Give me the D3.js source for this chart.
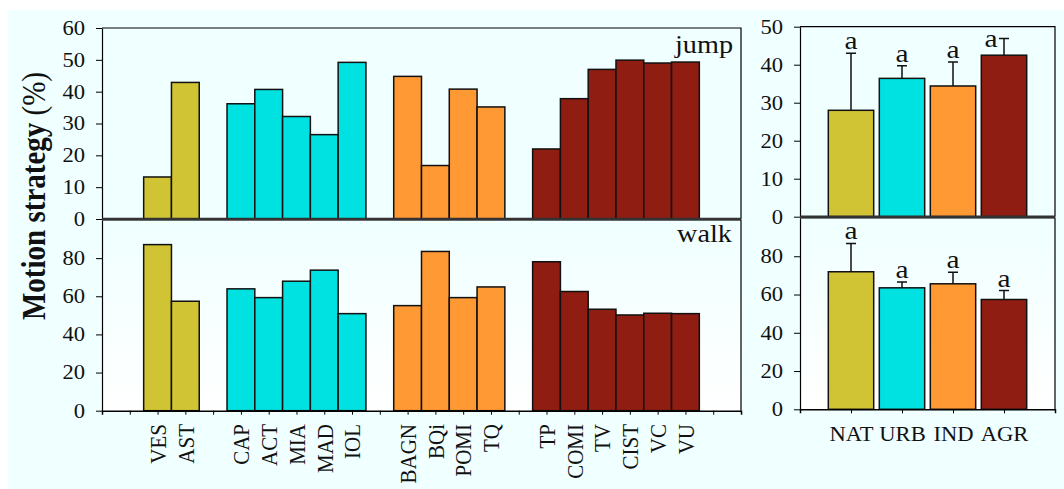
<!DOCTYPE html>
<html>
<head>
<meta charset="utf-8">
<script src="https://cdn.jsdelivr.net/npm/d3@7"></script>
<style>
body{margin:0;background:#fff}
svg text{font-family:'Liberation Serif','Times New Roman',serif;fill:#111}
</style>
</head>
<body>
<svg id="chart" width="1064" height="489"></svg>
<script>
// site level data (left chart)
const sites = ['VES','AST','CAP','ACT','MIA','MAD','IOL','BAGN','BQi','POMI','TQ','TP','COMI','TV','CIST','VC','VU']
const siteGroup = [0,0,1,1,1,1,1,2,2,2,2,3,3,3,3,3,3]
const jumpSite = [13.2,42.9,36.2,40.7,32.2,26.5,49.2,44.8,16.8,40.8,35.2,22.0,37.8,47.0,49.9,49.0,49.3]
const walkSite = [87.1,57.4,63.9,59.3,67.9,73.7,50.9,55.1,83.5,59.3,64.9,78.1,62.5,53.2,50.2,51.1,50.9]

// habitat means (right chart)
const groups = ['NAT','URB','IND','AGR']
const colors = ['#D1C434','#00E1E1','#FF9933','#8F1D12']
const jumpMean = [28.0,36.4,34.4,42.5]
const jumpErr = [15.0,3.3,6.3,4.4]
const walkMean = [71.9,63.5,65.6,57.4]
const walkErr = [14.8,3.1,6.1,4.7]
const letters = ['a','a','a','a']

const jumpTicks = [0,10,20,30,40,50,60]
const walkTicks = [0,20,40,60,80]
const jumpTicksR = [0,10,20,30,40,50]

const stretch = 1.13  // the original figure is a bit wider than tall

const svg = d3.select('#chart')
svg.append('rect')
    .attr('x', 8).attr('y', 10)
    .attr('width', 1056).attr('height', 479)
    .attr('fill', '#F0FFFF')

const grad = svg.append('defs').append('linearGradient')
    .attr('id', 'fade').attr('x1', 0).attr('y1', 0).attr('x2', 0).attr('y2', 1)
grad.append('stop').attr('offset', 0).attr('stop-color', '#F0FFFF')
grad.append('stop').attr('offset', 1).attr('stop-color', '#FFFFFF')

// slots with empty gaps between habitat groups
const slots = ['_0']
sites.forEach((s,i)=>{
    if(i > 0 && siteGroup[i] !== siteGroup[i-1]) slots.push('_' + siteGroup[i])
    slots.push(s)
})
slots.push('_end')

function styleAxis(g, size){
    g.attr('font-family', null).attr('font-size', null)
    g.selectAll('text').attr('font-size', size).attr('fill', '#111')
        .attr('transform', `scale(${stretch},1)`)
    g.selectAll('line, path').attr('stroke', '#000')
}

function label(x, y, txt, size, anchor){
    return svg.append('text')
        .attr('transform', `translate(${x},${y}) scale(${stretch},1)`)
        .attr('text-anchor', anchor)
        .attr('font-size', size)
        .text(txt)
}

function panel(o){
    const { x, y, left, right, top, bottom, fill } = o
    svg.append('rect')
        .attr('x', left).attr('y', top)
        .attr('width', right - left).attr('height', bottom - top)
        .attr('fill', fill)
    const step = x.step()
    const bw = step * o.barFrac
    svg.append('g').selectAll('rect')
        .data(o.keys)
        .enter()
        .append('rect')
        .attr('x', d=>x(d) - bw/2)
        .attr('y', (d,i)=>y(o.values[i]))
        .attr('width', bw)
        .attr('height', (d,i)=>y(0) - y(o.values[i]))
        .attr('fill', (d,i)=>colors[o.colorIdx[i]])
        .attr('stroke', '#111')
        .attr('stroke-width', 1.5)
    // frame
    svg.append('path')
        .attr('d', `M${left},${top}H${right}V${bottom}`)
        .attr('fill', 'none').attr('stroke', '#000').attr('stroke-width', 1.2)
    const ya = svg.append('g')
        .attr('transform', `translate(${left},0)`)
        .call(d3.axisLeft(y).tickValues(o.ticks).tickSize(6).tickSizeOuter(0).tickPadding(9))
    styleAxis(ya, 20)
    ya.select('.domain').attr('stroke-width', 1.2)
}

// ---------- left chart ----------
const xSite = d3.scalePoint().domain(slots).range([102, 741]).padding(1)
const yJump = d3.scaleLinear().domain([0, 60]).range([219, 28])
const yWalk = d3.scaleLinear().domain([0, 100]).range([410.7, 220])

panel({ x: xSite, y: yJump, left: 102, right: 741, top: 28, bottom: 219, fill: 'none',
    keys: sites, values: jumpSite, colorIdx: siteGroup, ticks: jumpTicks, barFrac: 1 })
panel({ x: xSite, y: yWalk, left: 102, right: 741, top: 220, bottom: 410.7, fill: 'url(#fade)',
    keys: sites, values: walkSite, colorIdx: siteGroup, ticks: walkTicks, barFrac: 1 })

svg.append('line')
    .attr('x1', 102).attr('x2', 741).attr('y1', yJump(0)).attr('y2', yJump(0))
    .attr('stroke', '#333').attr('stroke-width', 2.5)

const xa = svg.append('g')
    .attr('transform', `translate(0,${yWalk(0)})`)
    .call(d3.axisBottom(xSite).tickSize(4).tickSizeOuter(4).tickFormat(''))
styleAxis(xa, 20)
xa.select('.domain').attr('stroke-width', 1.5)

svg.append('g').selectAll('text')
    .data(sites)
    .enter()
    .append('text')
    .attr('transform', d=>`translate(${xSite(d)},424) rotate(-90) scale(1,${stretch})`)
    .attr('text-anchor', 'end')
    .attr('dy', '0.35em')
    .attr('font-size', 21)
    .text(d=>d)

label(733, 53, 'jump', 25, 'end')
label(732, 242, 'walk', 25, 'end')

const title = svg.append('text')
    .attr('transform', `translate(45,196) rotate(-90) scale(1,${stretch})`)
    .attr('text-anchor', 'middle')
    .attr('font-size', 29)
title.append('tspan').attr('font-weight', 'bold').text('Motion strategy ')
title.append('tspan').text('(%)')

// ---------- right chart ----------
const xHab = d3.scalePoint().domain(groups).range([800, 1055]).padding(1)
const yJumpR = d3.scaleLinear().domain([0, 50]).range([216.7, 26.7])
const yWalkR = d3.scaleLinear().domain([0, 100]).range([409.3, 218])
const gIdx = groups.map((d,i)=>i)

function errorBars(y, mean, err, top){
    const g = svg.append('g')
    groups.forEach((d,i)=>{
        const cx = xHab(d)
        const yTop = y(mean[i] + err[i])
        g.append('path')
            .attr('d', `M${cx},${y(mean[i])}V${yTop}M${cx-5},${yTop}H${cx+5}`)
            .attr('stroke', '#111').attr('stroke-width', 1.5).attr('fill', 'none')
        let lx = cx, ly = yTop - 4
        if(ly - 15 < top){ lx = cx - 13; ly = yTop + 9 }
        label(lx, ly, letters[i], 26, 'middle')
    })
}

panel({ x: xHab, y: yJumpR, left: 800, right: 1055, top: 26.7, bottom: 216.7, fill: 'none',
    keys: groups, values: jumpMean, colorIdx: gIdx, ticks: jumpTicksR, barFrac: 0.89 })
errorBars(yJumpR, jumpMean, jumpErr, 26.7)
panel({ x: xHab, y: yWalkR, left: 800, right: 1055, top: 218, bottom: 409.3, fill: 'url(#fade)',
    keys: groups, values: walkMean, colorIdx: gIdx, ticks: walkTicks, barFrac: 0.89 })
errorBars(yWalkR, walkMean, walkErr, 218)

svg.append('line')
    .attr('x1', 800).attr('x2', 1055).attr('y1', yJumpR(0)).attr('y2', yJumpR(0))
    .attr('stroke', '#333').attr('stroke-width', 2.5)

const xb = svg.append('g')
    .attr('transform', `translate(0,${yWalkR(0)})`)
    .call(d3.axisBottom(xHab).tickSize(4).tickSizeOuter(4).tickPadding(14))
styleAxis(xb, 20)
xb.select('.domain').attr('stroke-width', 1.5)
xb.selectAll('text').attr('dy', '0.71em')
</script>
</body>
</html>
